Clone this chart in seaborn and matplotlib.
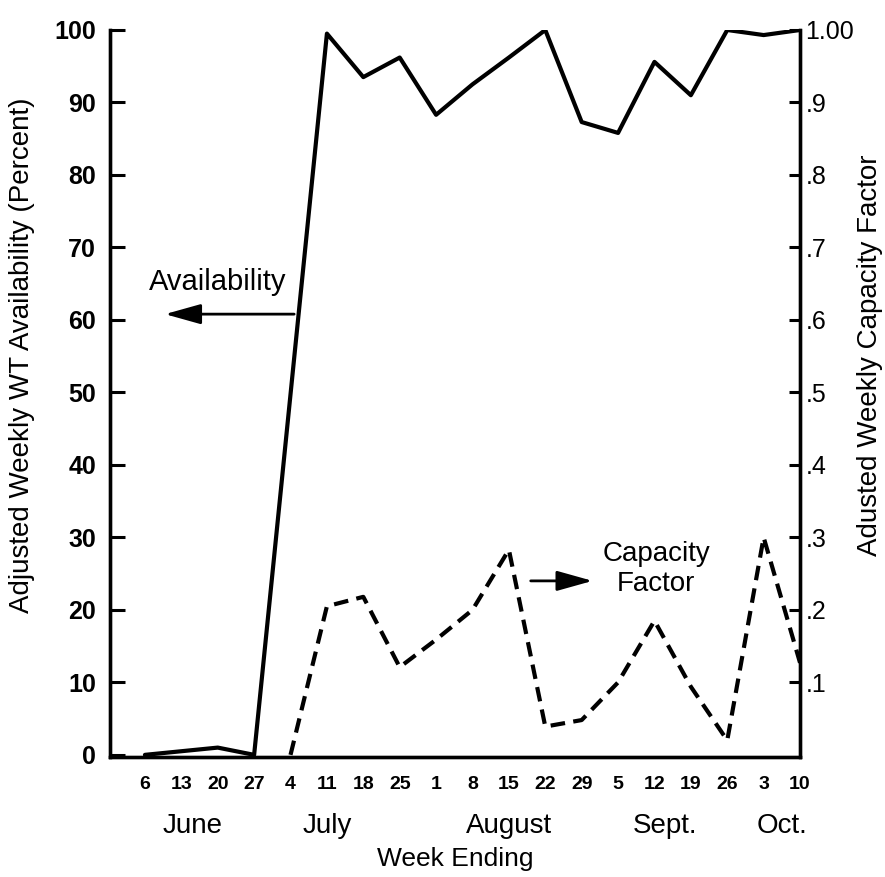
import numpy as np
import pandas as pd
import matplotlib
matplotlib.use('Agg')
from matplotlib import pyplot as plt
import seaborn as sb

sb.set_style('white')
plt.rcParams['font.family'] = ['Liberation Sans', 'DejaVu Sans']
plt.rcParams['text.color'] = 'black'
plt.rcParams['axes.labelcolor'] = 'black'
plt.rcParams['xtick.color'] = 'black'
plt.rcParams['ytick.color'] = 'black'

# week-ending labels along the x axis
weeks = ['6', '13', '20', '27', '4', '11', '18', '25', '1', '8', '15',
         '22', '29', '5', '12', '19', '26', '3', '10']
months = ['June', 'July', 'August', 'Sept.', 'Oct.']
month_pos = [1.3, 5.0, 10.0, 14.3, 17.5]

# availability (percent), no reading for week ending July 4
availability = [0, 0.5, 1.0, 0, np.nan, 99.5, 93.5, 96.2, 88.3, 92.5, 96.2,
                100, 87.3, 85.8, 95.6, 91.0, 100, 99.3, 100]

# capacity factor, begins with week ending July 4
capacity = [np.nan, np.nan, np.nan, np.nan, 0.0, 0.205, 0.218, 0.121, 0.159,
            0.20, 0.283, 0.039, 0.048, 0.10, 0.185, 0.094, 0.02, 0.30, 0.127]

# x position = order of the week within the season
x_all = np.arange(len(weeks))
df = pd.DataFrame({'x': x_all, 'avail': availability, 'cf': capacity})
dfA = df.dropna(subset=['avail'])
dfC = df.dropna(subset=['cf'])

fig = plt.figure(figsize=(8.85, 8.77), dpi=100)
ax = fig.add_axes([0.1243, 0.1368, 0.7797, 0.829])

sb.lineplot(data=dfA, x='x', y='avail', color='black', lw=3.0, ax=ax)
ax.set_xlim(-0.96, 18.0)
ax.set_ylim(-0.3, 100)
ax.set_yticks(range(0, 101, 10))
ax.set_xticks(x_all)
ax.set_xticklabels(weeks)
ax.set_xlabel('')
ax.set_ylabel('Adjusted Weekly WT Availability (Percent)', fontsize=20)
ax.yaxis.set_label_coords(-0.108, 0.553)
ax.tick_params(axis='y', direction='in', length=11, width=2.2, pad=10,
               labelsize=18)
ax.tick_params(axis='x', direction='in', length=9, width=1.8, pad=14,
               labelsize=14)
for t in ax.get_xticklabels() + ax.get_yticklabels():
    t.set_fontweight('bold')

ax2 = ax.twinx()
sb.lineplot(data=dfC, x='x', y='cf', color='black', lw=3.0, ax=ax2)
ax2.lines[0].set_dashes([3.5, 2])
ax2.set_ylim(-0.003, 1.0)
ax2.set_yticks([.1, .2, .3, .4, .5, .6, .7, .8, .9, 1.0])
ax2.set_yticklabels(['.1', '.2', '.3', '.4', '.5', '.6', '.7', '.8', '.9', '1.00'])
ax2.set_ylabel('Adusted Weekly Capacity Factor', fontsize=20)
ax2.yaxis.set_label_coords(1.082, 0.553)
ax2.tick_params(axis='y', direction='in', length=8, width=2.2, pad=4,
                labelsize=18)

for a in (ax, ax2):
    a.spines['top'].set_visible(False)
    for s in ('left', 'bottom', 'right'):
        a.spines[s].set_linewidth(2.4)
        a.spines[s].set_color('black')

# month names under the week labels
for m, p in zip(months, month_pos):
    ax.text(p, -0.095, m, transform=ax.get_xaxis_transform(), ha='center',
            va='center', fontsize=20)
ax.text(0.5, -0.14, 'Week Ending', transform=ax.transAxes, ha='center',
        va='center', fontsize=19)

# annotations
arrow = dict(arrowstyle='-|>,head_length=1.0,head_width=0.28', lw=2,
             color='black', mutation_scale=22, shrinkA=0, shrinkB=0)
ax.text(2.0, 65.2, 'Availability', ha='center', va='center', fontsize=21)
ax.annotate('', xy=(0.55, 60.8), xytext=(4.1, 60.8), arrowprops=arrow)
ax.text(14.05, 25.6, 'Capacity\nFactor', ha='center', va='center',
        fontsize=20, linespacing=1.2)
ax.annotate('', xy=(12.3, 24.0), xytext=(10.6, 24.0), arrowprops=arrow)

fig.savefig('out.png', dpi=100)
